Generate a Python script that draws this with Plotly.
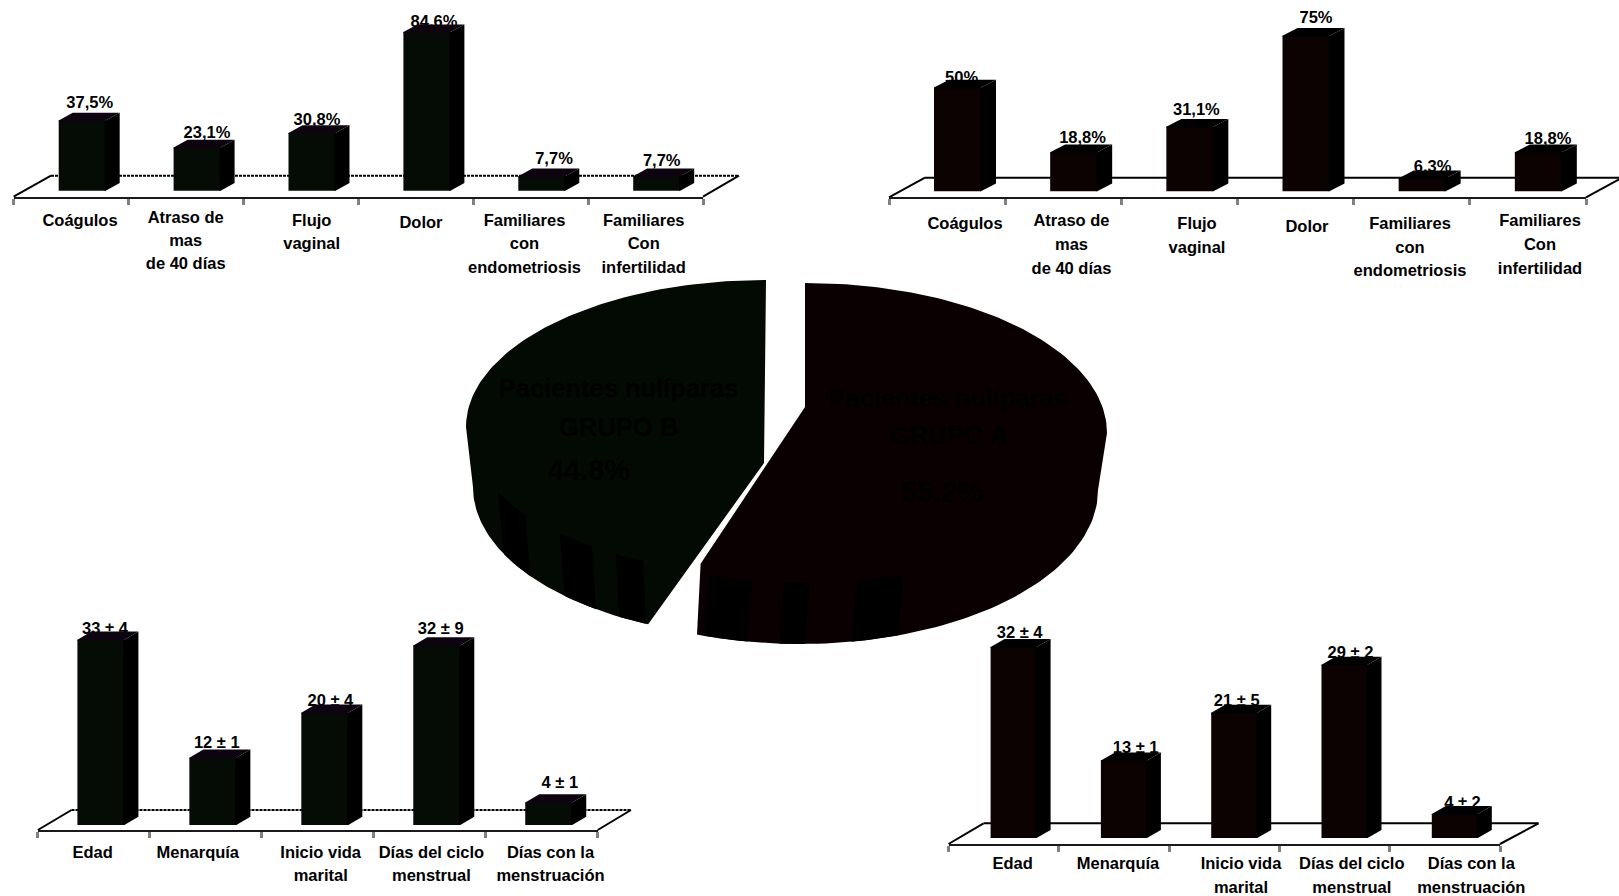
import math
import plotly.graph_objects as go

W, H = 1619, 896
FONT = "Liberation Sans"

# ---- data ----
SYMPTOMS = ["Coágulos", "Atraso de<br>mas<br>de 40 días", "Flujo<br>vaginal", "Dolor",
            "Familiares<br>con<br>endometriosis", "Familiares<br>Con<br>infertilidad"]
PROFILE = ["Edad", "Menarquía", "Inicio vida<br>marital", "Días del ciclo<br>menstrual",
           "Días con la<br>menstruación"]

SYMPTOMS_B = [37.5, 23.1, 30.8, 84.6, 7.7, 7.7]
SYMPTOMS_A = [50, 18.8, 31.1, 75, 6.3, 18.8]
PROFILE_B_MEAN = [33, 12, 20, 32, 4]
PROFILE_B_SD = [4, 1, 4, 9, 1]
PROFILE_A_MEAN = [32, 13, 21, 29, 4]
PROFILE_A_SD = [4, 1, 5, 2, 2]
SHARE_A = 55.2
SHARE_B = 44.8

# ---- colours ----
GREEN = dict(front="#040c05", side="#000000", top="#0e040f")
RED = dict(front="#0c0202", side="#000000", top="#000000")
PIE_GREEN, PIE_RED = "#020a03", "#0b0001"


def pct(v):
    return f"{v:g}".replace(".", ",") + "%"


def pm(means, sds):
    return [f"{m} ± {s}" for m, s in zip(means, sds)]


TEXT_DROP = 2  # vertical nudge of bar-panel texts, px

# Layout of each bar panel, in page pixels.
PANELS = [
    dict(cats=SYMPTOMS, vals=SYMPTOMS_B, labels=[pct(v) for v in SYMPTOMS_B], col=GREEN,
         x0=13.6, x1=703, floor=196.7, zero=190.7, ppv=1.875, bar0=58.7, bw=47, ddx=14, ddy=7.7,
         back_y=175.7, back_x0=51, back_x1=739, dash="3px,1px", size=16.5, spacing=23.3,
         label_xy=[(89.7, 101.7), (207, 132), (317, 119), (434, 20.7), (554, 157.7), (661.7, 160)],
         cat_xy=[(80, 220), (185.7, 216.7), (311.7, 220), (421, 221.7), (524.5, 220), (643.7, 220)]),
    dict(cats=SYMPTOMS, vals=SYMPTOMS_A, labels=[pct(v) for v in SYMPTOMS_A], col=RED,
         x0=889, x1=1586, floor=197.3, zero=191.3, ppv=2.075, bar0=934, bw=47, ddx=15, ddy=7.7,
         back_y=177.7, back_x0=925, back_x1=1622, dash="solid", size=16.5, spacing=23.8,
         label_xy=[(961.6, 77), (1082.6, 136.7), (1196.4, 109), (1316, 17), (1432.6, 166), (1548, 138)],
         cat_xy=[(965, 222.7), (1071.5, 220), (1197, 222.7), (1307, 225.7), (1410, 222.7), (1540, 220)]),
    dict(cats=PROFILE, vals=PROFILE_B_MEAN, labels=pm(PROFILE_B_MEAN, PROFILE_B_SD), col=GREEN,
         x0=37.9, x1=597.7, floor=830, zero=825, ppv=5.61, bar0=77.4, bw=47, ddx=14, ddy=8.3,
         back_y=810, back_x0=71.5, back_x1=631, dash="3px,1px", size=16.5, spacing=23.3,
         label_xy=[(105, 628), (216.8, 741.7), (330.4, 700), (440.7, 627.7), (559.8, 782)],
         cat_xy=[(92.6, 851.7), (197.8, 851.7), (320.7, 851.7), (431.4, 851.7), (550.5, 851.7)]),
    dict(cats=PROFILE, vals=PROFILE_A_MEAN, labels=pm(PROFILE_A_MEAN, PROFILE_A_SD), col=RED,
         x0=948.5, x1=1500, floor=844, zero=838, ppv=5.97, bar0=990.6, bw=46, ddx=14, ddy=8,
         back_y=823.3, back_x0=983.6, back_x1=1538.5, dash="solid", size=16.5, spacing=24,
         label_xy=[(1019.6, 631.7), (1135.6, 746.7), (1236.7, 700), (1350.5, 651.7), (1462.5, 801.7)],
         cat_xy=[(1012.6, 863.3), (1118, 863.3), (1241, 863.3), (1351.8, 863.3), (1471.3, 863.3)]),
]

fig = go.Figure()
shapes = []


def px_x(v):
    return v / W


def px_y(v):
    return 1 - v / H


# ---- central exploded 3-D pie ----
PIE_A = dict(cx=805, cy=433, a=302, b=150, low_cx=800, low_cy=490, low_a=298, low_b=154, apex=(805, 407))
PIE_B = dict(cx=766, cy=427, a=300, b=147, low_cx=766, low_cy=487, low_a=293, low_b=150, apex=(764, 463))
CUT_TURN_A = 1.5  # the cut edge of each slice, a few degrees past the plain share angle
CUT_TURN_B = 5.0
CORNER_LIFT = 10
STRIPES_A = [(708, 752), (784, 810), (857, 904)]
STRIPES_B = [(498, 525), (560, 592), (616, 643)]


def rim(p, theta_deg, low=False):
    t = math.radians(theta_deg)
    if low:
        return p["low_cx"] + p["low_a"] * math.sin(t), p["low_cy"] - p["low_b"] * math.cos(t)
    return p["cx"] + p["a"] * math.sin(t), p["cy"] - p["b"] * math.cos(t)


def arc(p, t0, t1, low=False, steps=70):
    return [rim(p, t0 + (t1 - t0) * i / steps, low) for i in range(steps + 1)]


share_angle = 360 * SHARE_A / (SHARE_A + SHARE_B)
cut_a = share_angle + CUT_TURN_A
cut_b = share_angle + CUT_TURN_B
corner = rim(PIE_A, cut_a)
wedge_a = arc(PIE_A, 0, 90) + arc(PIE_A, 90, cut_a, low=True) + [(corner[0], corner[1] - CORNER_LIFT), PIE_A["apex"]]
wedge_b = arc(PIE_B, 360, 270) + arc(PIE_B, 270, cut_b, low=True) + [PIE_B["apex"]]


def stripe(p, x0, x1, steps=12):
    def th(x):
        return 180 - math.degrees(math.asin((x - p["cx"]) / p["a"]))
    ts = [th(x0 + (x1 - x0) * i / steps) for i in range(steps + 1)]
    up = [rim(p, t) for t in ts]
    dn = [rim(p, t, low=True) for t in reversed(ts)]
    return up + dn


def poly_trace(points, color, xaxis, yaxis):
    xs, ys = [], []
    for pts in points:
        xs += [q[0] for q in pts] + [pts[0][0], None]
        ys += [q[1] for q in pts] + [pts[0][1], None]
    return go.Scatter(x=xs, y=ys, mode="lines", fill="toself", fillcolor=color,
                      line=dict(width=0, color=color), hoverinfo="skip", showlegend=False,
                      cliponaxis=False, xaxis=xaxis, yaxis=yaxis)


fig.add_trace(poly_trace([wedge_b], PIE_GREEN, "x", "y"))
fig.add_trace(poly_trace([wedge_a], PIE_RED, "x", "y"))
fig.add_trace(poly_trace([stripe(PIE_B, *s) for s in STRIPES_B], "#000000", "x", "y"))
fig.add_trace(poly_trace([stripe(PIE_A, *s) for s in STRIPES_A], "#000000", "x", "y"))
fig.add_trace(go.Scatter(
    x=[618.6, 618.6, 589, 948, 949, 942],
    y=[391, 430, 473, 401, 438, 495],
    text=["Pacientes nulíparas", "GRUPO B", f"{SHARE_B}%", "Pacientes nulíparas", "GRUPO A", f"{SHARE_A}%"],
    mode="text", textposition="middle center", hoverinfo="skip", showlegend=False, cliponaxis=False,
    textfont=dict(family=FONT, size=[25.5, 25.5, 29, 25.5, 25.5, 29], color="#000000", weight=700),
    xaxis="x", yaxis="y"))

layout_axes = dict(
    xaxis=dict(domain=[0, 1], range=[0, W], visible=False, fixedrange=True),
    yaxis=dict(domain=[0, 1], range=[H, 0], visible=False, fixedrange=True),
)

# ---- bar panels ----
for idx, p in enumerate(PANELS, start=2):
    n = len(p["vals"])
    pitch = (p["x1"] - p["x0"]) / n
    xa, ya = f"x{idx}", f"y{idx}"
    to_x = lambda px: (px - p["x0"]) / pitch
    to_y = lambda py: (p["zero"] - py) / p["ppv"]
    dx, dy = p["ddx"] / pitch, p["ddy"] / p["ppv"]
    half = p["bw"] / pitch / 2
    lap_x, lap_y = 1 / pitch, 1 / p["ppv"]  # faces overlap by a pixel so no seam shows
    centers = [to_x(p["bar0"] + p["bw"] / 2) + i for i in range(n)]

    layout_axes[f"xaxis{idx}"] = dict(
        domain=[px_x(p["x0"]), px_x(p["x1"])], range=[0, n], anchor=ya, fixedrange=True,
        showgrid=False, zeroline=False, showticklabels=False, showline=True,
        linecolor="#1a1a1a", linewidth=2, ticks="outside", tickvals=list(range(n + 1)),
        ticklen=6, tickwidth=3, tickcolor="#808080")
    layout_axes[f"yaxis{idx}"] = dict(
        domain=[px_y(p["floor"]), 1], range=[to_y(p["floor"]), to_y(0)], anchor=xa, fixedrange=True,
        visible=False)

    # floor outline behind the bars
    for x_a, y_a, x_b, y_b, dash in [
        (p["back_x0"], p["back_y"], p["back_x1"], p["back_y"], p["dash"]),
        (p["x0"], p["floor"], p["back_x0"], p["back_y"], "solid"),
        (p["x1"], p["floor"], p["back_x1"], p["back_y"], "solid"),
    ]:
        shapes.append(dict(type="line", xref="paper", yref="paper", layer="below",
                           x0=px_x(x_a), x1=px_x(x_b), y0=px_y(y_a), y1=px_y(y_b),
                           line=dict(color="#000000", width=2, dash=dash)))

    # value labels go first so the bar tops may cover them
    fig.add_trace(go.Scatter(
        x=[to_x(q[0]) for q in p["label_xy"]], y=[to_y(q[1] + TEXT_DROP) for q in p["label_xy"]],
        text=p["labels"], mode="text", textposition="middle center", cliponaxis=False,
        hoverinfo="skip", showlegend=False, xaxis=xa, yaxis=ya,
        textfont=dict(family=FONT, size=p["size"], color="#000000", weight=700)))

    # category labels sit under the axis, one text per line, on the page-wide axes
    lab_x, lab_y, lab_t = [], [], []
    for (cx_, cy_), c in zip(p["cat_xy"], p["cats"]):
        for k, line in enumerate(c.split("<br>")):
            lab_x.append(cx_)
            lab_y.append(cy_ + k * p["spacing"] + TEXT_DROP)
            lab_t.append(line)
    fig.add_trace(go.Scatter(
        x=lab_x, y=lab_y, text=lab_t, mode="text", textposition="middle center",
        hoverinfo="skip", showlegend=False, xaxis="x", yaxis="y",
        textfont=dict(family=FONT, size=p["size"], color="#000000", weight=700)))

    fig.add_trace(go.Bar(x=centers, y=p["vals"], width=half * 2,
                         marker=dict(color=p["col"]["front"], line=dict(width=0)),
                         hoverinfo="skip", showlegend=False, xaxis=xa, yaxis=ya))

    sides, tops = [], []
    for c, v in zip(centers, p["vals"]):
        r, l = c + half, c - half
        sides.append([(r - lap_x, 0), (r, 0), (r + dx, dy), (r + dx, v + dy), (r, v), (r - lap_x, v)])
        tops.append([(l, v - lap_y), (l, v), (l + dx, v + dy), (r + dx, v + dy), (r, v), (r, v - lap_y)])
    fig.add_trace(poly_trace(sides, p["col"]["side"], xa, ya))
    fig.add_trace(poly_trace(tops, p["col"]["top"], xa, ya))

fig.update_layout(
    width=W, height=H, autosize=False, margin=dict(l=0, r=0, t=0, b=0),
    paper_bgcolor="#ffffff", plot_bgcolor="rgba(0,0,0,0)", showlegend=False, barmode="overlay",
    shapes=shapes, **layout_axes)

fig.write_html("out.html", config=dict(displayModeBar=False))
